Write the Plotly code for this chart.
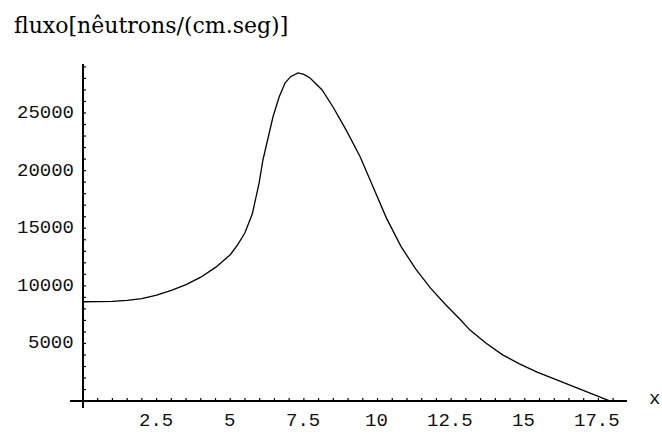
import plotly.graph_objects as go

# Data
x_vals = [0, 0.5, 1.0, 1.5, 2.0, 2.5, 3.0, 3.5, 4.0, 4.5, 5.0, 5.25, 5.5, 5.75, 5.98,
          6.11, 6.28, 6.45, 6.66, 6.86, 7.05, 7.30, 7.5, 7.71, 8.12, 8.49, 8.96,
          9.41, 9.85, 10.3, 10.8, 11.3, 11.8, 12.3, 12.8, 13.14, 13.7, 14.26,
          14.8, 15.42, 16.0, 16.54, 17.0, 17.45, 17.9]
flux_vals = [8620, 8620, 8650, 8740, 8900, 9200, 9600, 10100, 10750, 11600,
             12700, 13550, 14600, 16250, 18920,
             20920, 22920, 24650, 26390, 27600, 28150, 28470, 28350, 28040,
             27000, 25520, 23400,
             21200, 18580, 15900, 13400, 11450, 9800, 8400, 7100, 6160, 5000,
             3990, 3250, 2520, 1920, 1390, 920, 430, 0]

x_major = [2.5, 5, 7.5, 10, 12.5, 15, 17.5]
x_major_labels = ["2.5", "5", "7.5", "10", "12.5", "15", "17.5"]
y_major = [5000, 10000, 15000, 20000, 25000]
y_major_labels = ["5000", "10000", "15000", "20000", "25000"]
x_minor = [i * 0.5 for i in range(1, 37)]
y_minor = [i * 1000 for i in range(1, 30)]

title_text = "fluxo[nêutrons/(cm.seg)]"
x_axis_label = "x"

X_RANGE = [-0.44, 18.47]
Y_RANGE = [-600, 29250]

fig = go.Figure()
fig.add_trace(go.Scatter(x=x_vals, y=flux_vals, mode="lines",
                         line=dict(color="black", width=1.3),
                         hoverinfo="skip", showlegend=False))

shapes = []
for xt in x_minor:
    shapes.append(dict(type="line", xref="x", yref="y", ysizemode="pixel",
                       yanchor=0, x0=xt, x1=xt, y0=0, y1=3,
                       line=dict(color="black", width=1.2)))
for yt in y_minor:
    shapes.append(dict(type="line", xref="x", yref="y", xsizemode="pixel",
                       xanchor=0, x0=0, x1=3, y0=yt, y1=yt,
                       line=dict(color="black", width=1.2)))

tick_font = dict(family="Liberation Mono, Courier New, monospace", size=19, color="#111111")
annotations = []
for v, t in zip(x_major, x_major_labels):
    annotations.append(dict(x=v, y=0, xref="x", yref="y", text=t, showarrow=False,
                            xanchor="center", yanchor="middle", xshift=-1, yshift=-20,
                            font=tick_font))
for v, t in zip(y_major, y_major_labels):
    annotations.append(dict(x=0, y=v, xref="x", yref="y", text=t, showarrow=False,
                            xanchor="right", yanchor="middle", xshift=-7,
                            font=tick_font))
annotations.append(dict(x=1, y=0, xref="paper", yref="y", text=x_axis_label,
                        showarrow=False, xanchor="center", yanchor="middle",
                        xshift=27, yshift=2, font=tick_font))
annotations.append(dict(x=0, y=1, xref="paper", yref="paper", text=title_text,
                        showarrow=False, xanchor="left", yanchor="middle",
                        xshift=-58, yshift=39,
                        font=dict(family="DejaVu Serif, serif", size=22, color="black")))

axis_common = dict(showgrid=False, showline=False, showticklabels=False, ticks="",
                   zeroline=True, zerolinecolor="black", zerolinewidth=1.7)
fig.update_layout(
    width=662, height=434,
    margin=dict(l=70, r=35, t=64, b=26),
    paper_bgcolor="white", plot_bgcolor="white",
    xaxis=dict(range=X_RANGE, **axis_common),
    yaxis=dict(range=Y_RANGE, **axis_common),
    shapes=shapes, annotations=annotations,
    showlegend=False,
)

# remove the page's default 8px body margin so the figure fills the window exactly
fig.write_html("out.html",
               config={"displayModeBar": False, "staticPlot": True},
               post_script="document.body.style.margin='0';document.body.style.overflow='hidden';")
